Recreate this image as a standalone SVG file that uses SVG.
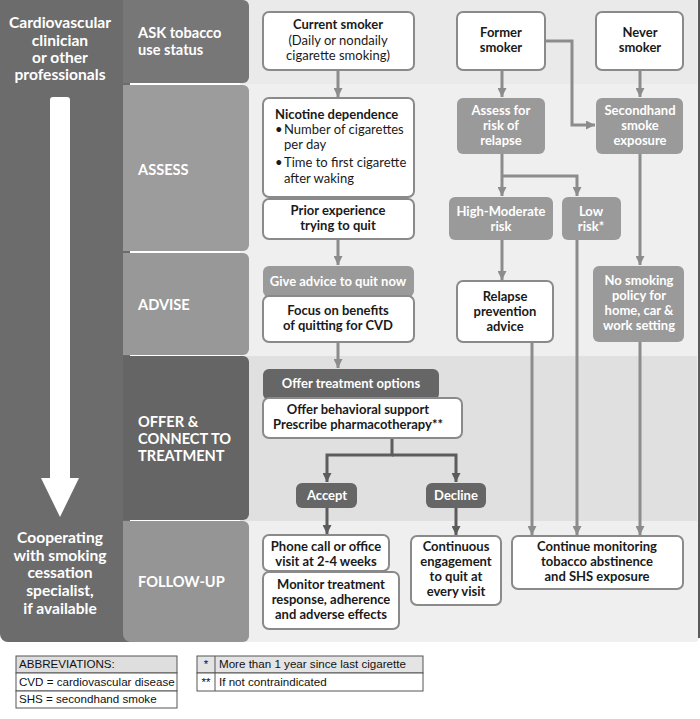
<svg xmlns="http://www.w3.org/2000/svg" width="700" height="719" viewBox="0 0 700 719">
<defs>
<style>
.t{font-family:Lato,"Open Sans","DejaVu Sans",sans-serif;font-size:13px;fill:#1a1a1a;text-anchor:middle}
.b{font-weight:700}
.w{fill:#fff;font-weight:700}
.st{font-family:Lato,"Open Sans","DejaVu Sans",sans-serif;font-size:14.6px;font-weight:700;fill:#fff}
.lc{font-family:Lato,"Open Sans","DejaVu Sans",sans-serif;font-size:15.6px;font-weight:700;fill:#fff;text-anchor:middle}
.box{fill:#fff;stroke:#8a8a8a;stroke-width:2}
.gb{fill:#9a9a9a}
.db{fill:#666}
.cl{fill:none;stroke:#8c8c8c;stroke-width:3}
.cd{fill:none;stroke:#5c5c5c;stroke-width:3}
.lg{font-family:"Liberation Sans",Arial,sans-serif;font-size:11.6px;fill:#111}
.lb{fill:#fff;stroke:#555;stroke-width:1}
</style>
<marker id="al" viewBox="0 0 10 10" refX="10" refY="5" markerWidth="9" markerHeight="9" markerUnits="userSpaceOnUse" orient="auto"><path d="M0,0 L10,5 L0,10 z" fill="#8c8c8c"/></marker>
<marker id="ad" viewBox="0 0 10 10" refX="10" refY="5" markerWidth="9" markerHeight="9" markerUnits="userSpaceOnUse" orient="auto"><path d="M0,0 L10,5 L0,10 z" fill="#5c5c5c"/></marker>
</defs>
<rect width="700" height="719" fill="#fff"/>
<g id="background">
<path d="M240,0 H700 V636 a6,6 0 0 1 -6,6 H240 z" fill="#efefef"/>
<rect x="240" y="0" width="457" height="84" fill="#eaeaea"/>
<rect x="240" y="356" width="457" height="165" fill="#e0e0e0"/>
<rect x="698" y="0" width="2" height="638" fill="#5a5a5a"/>
<path d="M0,0 H130 V642 H8 a8,8 0 0 1 -8,-8 z" fill="#6c6c6c"/>
</g>
<g id="stage-ask"><path d="M123,0 H243 a6,6 0 0 1 6,6 V77 a6,6 0 0 1 -6,6 H123 z" fill="#777"/>
<text class="st" x="138" y="38">ASK tobacco</text><text class="st" x="138" y="55">use status</text></g>
<g id="stage-assess"><path d="M123,85 H243 a6,6 0 0 1 6,6 V245 a6,6 0 0 1 -6,6 H123 z" fill="#9c9c9c"/>
<text class="st" x="138" y="175">ASSESS</text></g>
<g id="stage-advise"><path d="M123,253 H243 a6,6 0 0 1 6,6 V349 a6,6 0 0 1 -6,6 H123 z" fill="#989898"/>
<text class="st" x="138" y="310">ADVISE</text></g>
<g id="stage-offer"><path d="M123,356 H243 a6,6 0 0 1 6,6 V514 a6,6 0 0 1 -6,6 H123 z" fill="#656565"/>
<text class="st" x="138" y="427">OFFER &amp;</text><text class="st" x="138" y="444">CONNECT TO</text><text class="st" x="138" y="461">TREATMENT</text></g>
<g id="stage-followup"><path d="M123,521 H243 a6,6 0 0 1 6,6 V636 a6,6 0 0 1 -6,6 H131 a8,8 0 0 1 -8,-8 z" fill="#959595"/>
<text class="st" x="138" y="587">FOLLOW-UP</text></g>
<g id="left-column">
<text class="lc" x="60" y="28">Cardiovascular</text>
<text class="lc" x="60" y="46">clinician</text>
<text class="lc" x="60" y="63">or other</text>
<text class="lc" x="60" y="80">professionals</text>
<path d="M50,100 a3,3 0 0 1 3,-3 H67 a3,3 0 0 1 3,3 V478 H79 L60,517 L41,478 H50 z" fill="#fff"/>
<text class="lc" x="60" y="543">Cooperating</text>
<text class="lc" x="60" y="561">with smoking</text>
<text class="lc" x="60" y="578">cessation</text>
<text class="lc" x="60" y="596">specialist,</text>
<text class="lc" x="60" y="614">if available</text>
</g>
<g id="connectors">
<path class="cl" d="M338,70 V97" marker-end="url(#al)"/>
<path class="cl" d="M338,239 V265" marker-end="url(#al)"/>
<path class="cl" d="M338,342 V368" marker-end="url(#al)"/>
<path class="cl" d="M502,70 V97" marker-end="url(#al)"/>
<path class="cl" d="M545,41 H572 V125 H595" marker-end="url(#al)"/>
<path class="cl" d="M640,70 V97" marker-end="url(#al)"/>
<path class="cl" d="M502,154 V196" marker-end="url(#al)"/>
<path class="cl" d="M502,176 H577 V196" marker-end="url(#al)"/>
<path class="cl" d="M502,240 V280" marker-end="url(#al)"/>
<path class="cl" d="M577,240 V535" marker-end="url(#al)"/>
<path class="cl" d="M532,342 V535" marker-end="url(#al)"/>
<path class="cl" d="M640,154 V265" marker-end="url(#al)"/>
<path class="cl" d="M640,342 V535" marker-end="url(#al)"/>
<path class="cd" d="M392,438 V455 H327 V482" marker-end="url(#ad)"/>
<path class="cd" d="M392,455 H456 V482" marker-end="url(#ad)"/>
<path class="cd" d="M327,507 V534" marker-end="url(#ad)"/>
<path class="cd" d="M456,507 V535" marker-end="url(#ad)"/>
</g>
<g id="current-smoker"><rect class="box" x="263" y="12" width="151" height="58" rx="6"/>
<text class="t b" x="338" y="29">Current smoker</text><text class="t" x="338" y="45">(Daily or nondaily</text><text class="t" x="338" y="60">cigarette smoking)</text></g>
<g id="former-smoker"><rect class="box" x="457" y="12" width="88" height="58" rx="6"/>
<text class="t b" x="501" y="37">Former</text><text class="t b" x="501" y="52">smoker</text></g>
<g id="never-smoker"><rect class="box" x="596" y="12" width="87" height="58" rx="6"/>
<text class="t b" x="640" y="37">Never</text><text class="t b" x="640" y="52">smoker</text></g>
<g id="nicotine-dependence"><rect class="box" x="263" y="98" width="151" height="99" rx="6"/>
<text class="t b" x="275" y="119" style="text-anchor:start">Nicotine dependence</text>
<text class="t" x="275" y="134" style="text-anchor:start">•</text><text class="t" x="284" y="134" style="text-anchor:start">Number of cigarettes</text>
<text class="t" x="284" y="149" style="text-anchor:start">per day</text>
<text class="t" x="275" y="167" style="text-anchor:start">•</text><text class="t" x="284" y="167" style="text-anchor:start">Time to first cigarette</text>
<text class="t" x="284" y="183" style="text-anchor:start">after waking</text></g>
<g id="prior-experience"><rect class="box" x="263" y="199" width="151" height="40" rx="6"/>
<text class="t b" x="338" y="215">Prior experience</text><text class="t b" x="338" y="230">trying to quit</text></g>
<g id="assess-relapse"><rect class="gb" x="457" y="98" width="88" height="56" rx="6"/>
<text class="t w" x="501" y="115">Assess for</text><text class="t w" x="501" y="130">risk of</text><text class="t w" x="501" y="145">relapse</text></g>
<g id="secondhand"><rect class="gb" x="596" y="98" width="87" height="56" rx="6"/>
<text class="t w" x="640" y="115">Secondhand</text><text class="t w" x="640" y="130">smoke</text><text class="t w" x="640" y="145">exposure</text></g>
<g id="high-moderate"><rect class="gb" x="449" y="197" width="104" height="43" rx="6"/>
<text class="t w" x="501" y="216">High-Moderate</text><text class="t w" x="501" y="231">risk</text></g>
<g id="low-risk"><rect class="gb" x="562" y="197" width="59" height="43" rx="6"/>
<text class="t w" x="591" y="216">Low</text><text class="t w" x="591" y="231">risk*</text></g>
<g id="give-advice"><rect class="gb" x="263" y="266" width="151" height="31" rx="6"/>
<text class="t w" x="338" y="286">Give advice to quit now</text></g>
<g id="focus-benefits"><rect class="box" x="263" y="296" width="151" height="46" rx="6"/>
<text class="t b" x="338" y="315">Focus on benefits</text><text class="t b" x="338" y="330">of quitting for CVD</text></g>
<g id="relapse-prevention"><rect class="box" x="457" y="281" width="96" height="61" rx="6"/>
<text class="t b" x="505" y="301">Relapse</text><text class="t b" x="505" y="316">prevention</text><text class="t b" x="505" y="331">advice</text></g>
<g id="no-smoking-policy"><rect class="gb" x="593" y="266" width="91" height="76" rx="6"/>
<text class="t w" x="639" y="285">No smoking</text><text class="t w" x="639" y="300">policy for</text><text class="t w" x="639" y="315">home, car &amp;</text><text class="t w" x="639" y="330">work setting</text></g>
<g id="offer-treatment"><rect class="db" x="263" y="369" width="176" height="31" rx="6"/>
<text class="t w" x="351" y="388">Offer treatment options</text></g>
<g id="offer-support"><rect class="box" x="263" y="398" width="199" height="40" rx="6"/>
<text class="t b" x="358" y="414">Offer behavioral support</text><text class="t b" x="358" y="429">Prescribe pharmacotherapy**</text></g>
<g id="accept"><rect class="db" x="296" y="483" width="61" height="25" rx="6"/>
<text class="t w" x="327" y="500">Accept</text></g>
<g id="decline"><rect class="db" x="426" y="483" width="60" height="25" rx="6"/>
<text class="t w" x="456" y="500">Decline</text></g>
<g id="phone-call"><rect class="box" x="263" y="535" width="126" height="36" rx="6"/>
<text class="t b" x="326" y="551">Phone call or office</text><text class="t b" x="326" y="566">visit at 2-4 weeks</text></g>
<g id="monitor-treatment"><rect class="box" x="263" y="572" width="136" height="57" rx="6"/>
<text class="t b" x="331" y="589">Monitor treatment</text><text class="t b" x="331" y="604">response, adherence</text><text class="t b" x="331" y="619">and adverse effects</text></g>
<g id="continuous-engagement"><rect class="box" x="411" y="536" width="90" height="69" rx="6"/>
<text class="t b" x="456" y="551">Continuous</text><text class="t b" x="456" y="566">engagement</text><text class="t b" x="456" y="581">to quit at</text><text class="t b" x="456" y="596">every visit</text></g>
<g id="continue-monitoring"><rect class="box" x="512" y="536" width="171" height="53" rx="6"/>
<text class="t b" x="597" y="551">Continue monitoring</text><text class="t b" x="597" y="566">tobacco abstinence</text><text class="t b" x="597" y="581">and SHS exposure</text></g>
<g id="legend-abbreviations">
<rect x="16" y="656" width="161" height="17" fill="#dedede" stroke="#555" stroke-width="1"/>
<rect class="lb" x="16" y="673" width="161" height="18"/>
<rect class="lb" x="16" y="691" width="161" height="17"/>
<text class="lg" x="19" y="668">ABBREVIATIONS:</text>
<text class="lg" x="19" y="686">CVD = cardiovascular disease</text>
<text class="lg" x="19" y="703">SHS = secondhand smoke</text>
</g>
<g id="legend-notes">
<rect x="197" y="656" width="226" height="17" fill="#e4e4e4" stroke="#555" stroke-width="1"/>
<rect class="lb" x="197" y="673" width="226" height="18"/>
<line x1="215" y1="656" x2="215" y2="691" stroke="#555" stroke-width="1"/>
<text class="lg" x="206" y="668" style="text-anchor:middle">*</text>
<text class="lg" x="206" y="686" style="text-anchor:middle">**</text>
<text class="lg" x="219" y="668">More than 1 year since last cigarette</text>
<text class="lg" x="219" y="686">If not contraindicated</text>
</g>
</svg>
